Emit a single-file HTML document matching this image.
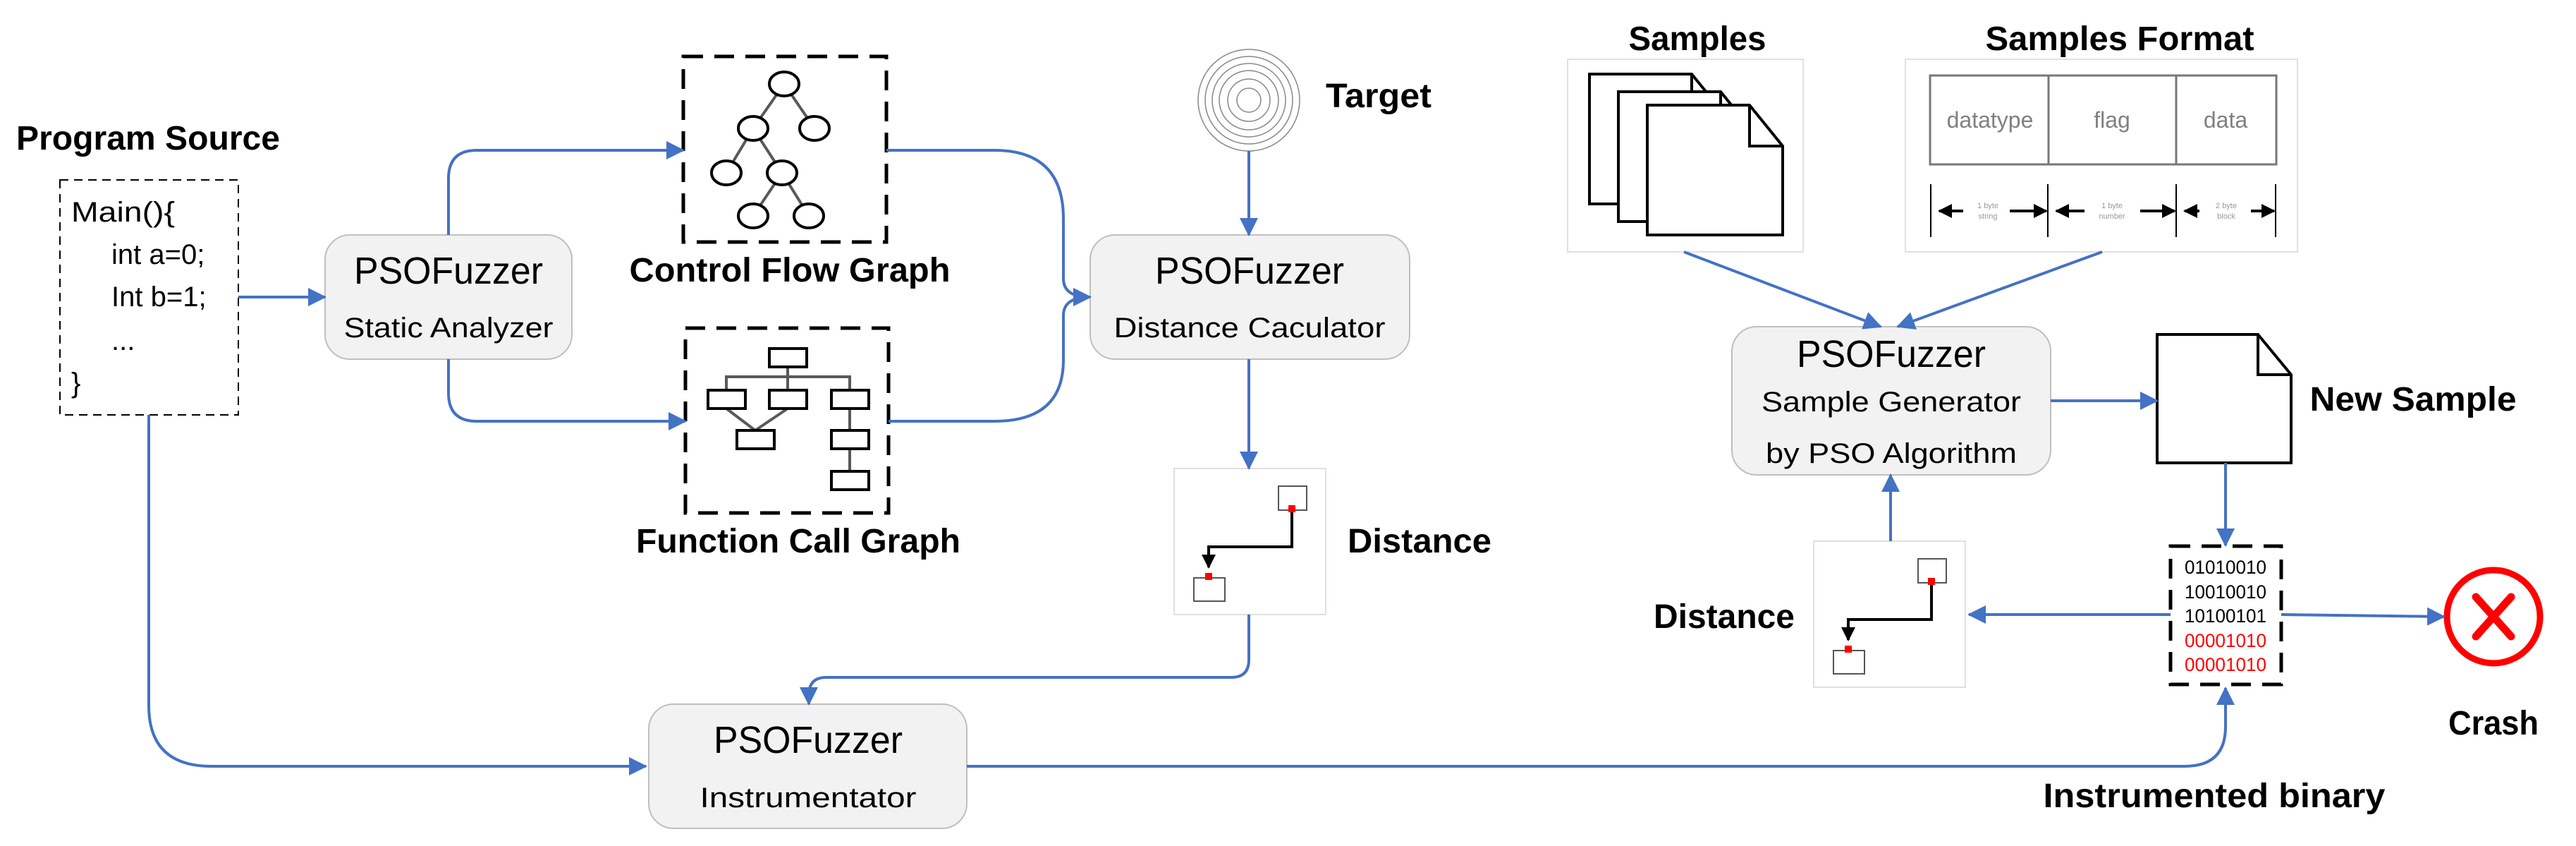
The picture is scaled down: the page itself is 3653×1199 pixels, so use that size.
<!DOCTYPE html>
<html><head><meta charset="utf-8"><style>
html,body{margin:0;padding:0;background:#fff;}
svg{display:block;}
text{font-family:"Liberation Sans",sans-serif;}
.b{font-weight:bold;font-size:48px;fill:#000;text-anchor:middle;}
.t1{font-size:54px;fill:#000;text-anchor:middle;}
.t2{font-size:40px;fill:#000;text-anchor:middle;}
.c{stroke:#4472C4;stroke-width:4;fill:none;marker-end:url(#ah);}
.box{fill:#f2f2f2;stroke:#bfbfbf;stroke-width:2;}
</style></head><body>
<svg width="3653" height="1199" viewBox="0 0 3653 1199" xmlns="http://www.w3.org/2000/svg">
<defs>
<marker id="ah" markerUnits="userSpaceOnUse" markerWidth="26" markerHeight="26" refX="24" refY="13" orient="auto">
<path d="M0,0 L26,13 L0,26 z" fill="#4472C4"/></marker>
<marker id="bk" markerUnits="userSpaceOnUse" markerWidth="20" markerHeight="20" refX="18" refY="10" orient="auto">
<path d="M0,0 L20,10 L0,20 z" fill="#000"/></marker>
<g id="dist">
<rect x="0" y="0" width="215" height="207" fill="#fff" stroke="#e0e0e0" stroke-width="2"/>
<rect x="148" y="25" width="40" height="34" fill="#fff" stroke="#555" stroke-width="2"/>
<path d="M167 58 V111 H49 V140" stroke="#000" stroke-width="4" fill="none" marker-end="url(#bk)"/>
<rect x="28" y="155" width="44" height="33" fill="#fff" stroke="#555" stroke-width="2"/>
<rect x="162" y="52" width="10" height="10" fill="#f00"/>
<rect x="44" y="148" width="10" height="10" fill="#f00"/>
</g>
<g id="page">
<path d="M0 0 H145 L192 58 V184 H0 Z" fill="#fff" stroke="#000" stroke-width="4"/>
<path d="M145 0 V58 H192" fill="none" stroke="#000" stroke-width="4"/>
</g>
</defs>

<text class="b" x="210" y="212" textLength="374" lengthAdjust="spacingAndGlyphs">Program Source</text>
<text class="b" x="1120" y="399" textLength="455" lengthAdjust="spacingAndGlyphs">Control Flow Graph</text>
<text class="b" x="1132" y="783" textLength="460" lengthAdjust="spacingAndGlyphs">Function Call Graph</text>
<text class="b" x="1955" y="152" textLength="150" lengthAdjust="spacingAndGlyphs">Target</text>
<text class="b" x="2013" y="783" textLength="204" lengthAdjust="spacingAndGlyphs">Distance</text>
<text class="b" x="2407" y="71" textLength="195" lengthAdjust="spacingAndGlyphs">Samples</text>
<text class="b" x="3006" y="71" textLength="381" lengthAdjust="spacingAndGlyphs">Samples Format</text>
<text class="b" x="3422" y="582" textLength="293" lengthAdjust="spacingAndGlyphs">New Sample</text>
<text class="b" x="2445" y="890" textLength="200" lengthAdjust="spacingAndGlyphs">Distance</text>
<text class="b" x="3536" y="1041" textLength="128" lengthAdjust="spacingAndGlyphs">Crash</text>
<text class="b" x="3140" y="1144" textLength="485" lengthAdjust="spacingAndGlyphs">Instrumented binary</text>

<rect x="85" y="255" width="253" height="333" fill="#fff" stroke="#000" stroke-width="2" stroke-dasharray="12,8"/>
<g font-size="40" fill="#000">
<text x="101" y="314" textLength="147" lengthAdjust="spacingAndGlyphs">Main(){</text>
<text x="158" y="374">int a=0;</text>
<text x="158" y="434">Int b=1;</text>
<text x="158" y="496">...</text>
<text x="101" y="556">}</text>
</g>

<rect class="box" x="461" y="333" width="350" height="176" rx="35"/>
<text class="t1" x="636" y="402" textLength="268" lengthAdjust="spacingAndGlyphs">PSOFuzzer</text>
<text class="t2" x="636" y="478" textLength="297" lengthAdjust="spacingAndGlyphs">Static Analyzer</text>

<rect class="box" x="1546" y="333" width="453" height="176" rx="35"/>
<text class="t1" x="1772" y="402" textLength="268" lengthAdjust="spacingAndGlyphs">PSOFuzzer</text>
<text class="t2" x="1772" y="478" textLength="385" lengthAdjust="spacingAndGlyphs">Distance Caculator</text>

<rect class="box" x="920" y="998" width="451" height="176" rx="35"/>
<text class="t1" x="1146" y="1067" textLength="268" lengthAdjust="spacingAndGlyphs">PSOFuzzer</text>
<text class="t2" x="1146" y="1144" textLength="307" lengthAdjust="spacingAndGlyphs">Instrumentator</text>

<rect class="box" x="2456" y="463" width="452" height="210" rx="35"/>
<text class="t1" x="2682" y="520" textLength="268" lengthAdjust="spacingAndGlyphs">PSOFuzzer</text>
<text class="t2" x="2682" y="583" textLength="368" lengthAdjust="spacingAndGlyphs">Sample Generator</text>
<text class="t2" x="2682" y="656" textLength="356" lengthAdjust="spacingAndGlyphs">by PSO Algorithm</text>

<rect x="969" y="80" width="288" height="263" fill="#fff" stroke="#000" stroke-width="5" stroke-dasharray="28,16"/>
<g stroke="#595959" stroke-width="4">
<line x1="1112" y1="119" x2="1068" y2="182"/><line x1="1112" y1="119" x2="1155" y2="182"/>
<line x1="1068" y1="182" x2="1030" y2="245"/><line x1="1068" y1="182" x2="1109" y2="245"/>
<line x1="1109" y1="245" x2="1068" y2="306"/><line x1="1109" y1="245" x2="1147" y2="306"/>
</g>
<g fill="#fff" stroke="#000" stroke-width="4">
<ellipse cx="1112" cy="119" rx="21" ry="17"/><ellipse cx="1068" cy="182" rx="21" ry="17"/><ellipse cx="1155" cy="182" rx="21" ry="17"/>
<ellipse cx="1030" cy="245" rx="21" ry="17"/><ellipse cx="1109" cy="245" rx="21" ry="17"/>
<ellipse cx="1068" cy="306" rx="21" ry="17"/><ellipse cx="1147" cy="306" rx="21" ry="17"/>
</g>

<rect x="972" y="465" width="288" height="262" fill="#fff" stroke="#000" stroke-width="5" stroke-dasharray="28,16"/>
<g stroke="#595959" stroke-width="4" fill="none">
<path d="M1117 520 V553 M1030 553 V534 H1205 V553 M1030 579 L1071 610 M1117 579 L1071 610 M1205 579 V610 M1205 636 V668"/>
</g>
<g fill="#fff" stroke="#000" stroke-width="4">
<rect x="1091" y="494" width="53" height="26"/>
<rect x="1004" y="553" width="53" height="26"/><rect x="1091" y="553" width="53" height="26"/><rect x="1179" y="553" width="53" height="26"/>
<rect x="1045" y="610" width="53" height="26"/><rect x="1179" y="610" width="53" height="26"/>
<rect x="1179" y="668" width="53" height="26"/>
</g>

<g fill="none" stroke="#888" stroke-width="1.5">
<circle cx="1771" cy="142" r="72"/><circle cx="1771" cy="142" r="62"/><circle cx="1771" cy="142" r="52"/>
<circle cx="1771" cy="142" r="42"/><circle cx="1771" cy="142" r="30"/><circle cx="1771" cy="142" r="17"/>
</g>

<use href="#dist" x="1665" y="664"/>
<use href="#dist" x="2572" y="767"/>

<rect x="2223" y="84" width="334" height="273" fill="#fff" stroke="#e0e0e0" stroke-width="2"/>
<use href="#page" x="2254" y="105"/>
<use href="#page" x="2295" y="130"/>
<use href="#page" x="2336" y="149"/>

<rect x="2702" y="84" width="556" height="273" fill="#fff" stroke="#e0e0e0" stroke-width="2"/>
<rect x="2737" y="107" width="491" height="126" fill="#fff" stroke="#777" stroke-width="3"/>
<line x1="2905" y1="107" x2="2905" y2="233" stroke="#777" stroke-width="3"/>
<line x1="3086" y1="107" x2="3086" y2="233" stroke="#777" stroke-width="3"/>
<g font-size="32" fill="#808080" text-anchor="middle">
<text x="2822" y="181">datatype</text><text x="2995" y="181">flag</text><text x="3156" y="181">data</text>
</g>
<g stroke="#000" stroke-width="2"><line x1="2738" y1="261" x2="2738" y2="336"/><line x1="2904" y1="261" x2="2904" y2="336"/><line x1="3086" y1="261" x2="3086" y2="336"/><line x1="3227" y1="261" x2="3227" y2="336"/></g>
<g stroke="#000" stroke-width="4">
<line x1="2784" y1="299" x2="2750" y2="299" marker-end="url(#bk)"/>
<line x1="2850" y1="299" x2="2902" y2="299" marker-end="url(#bk)"/>
<line x1="2956" y1="299" x2="2916" y2="299" marker-end="url(#bk)"/>
<line x1="3035" y1="299" x2="3084" y2="299" marker-end="url(#bk)"/>
<line x1="3119" y1="299" x2="3098" y2="299" marker-end="url(#bk)"/>
<line x1="3192" y1="299" x2="3225" y2="299" marker-end="url(#bk)"/>
</g>
<g font-size="11" fill="#999" text-anchor="middle">
<text x="2819" y="295">1 byte</text><text x="2819" y="310">string</text>
<text x="2995" y="295">1 byte</text><text x="2995" y="310">number</text>
<text x="3157" y="295">2 byte</text><text x="3157" y="310">block</text>
</g>

<g transform="translate(3059,474)"><path d="M0 0 H143 L190 57 V182 H0 Z" fill="#fff" stroke="#000" stroke-width="4"/><path d="M143 0 V57 H190" fill="none" stroke="#000" stroke-width="4"/></g>

<rect x="3078" y="774" width="157" height="196" fill="#fff" stroke="#000" stroke-width="5" stroke-dasharray="28,16"/>
<g font-size="27" text-anchor="middle">
<text x="3156" y="813" textLength="116" lengthAdjust="spacingAndGlyphs">01010010</text>
<text x="3156" y="848" textLength="116" lengthAdjust="spacingAndGlyphs">10010010</text>
<text x="3156" y="882" textLength="116" lengthAdjust="spacingAndGlyphs">10100101</text>
<text x="3156" y="917" fill="#f00" textLength="116" lengthAdjust="spacingAndGlyphs">00001010</text>
<text x="3156" y="951" fill="#f00" textLength="116" lengthAdjust="spacingAndGlyphs">00001010</text>
</g>

<circle cx="3536" cy="874" r="66" fill="#fff" stroke="#f00" stroke-width="9"/>
<path d="M3511 846 L3561 902 M3561 846 L3511 902" stroke="#f00" stroke-width="11" stroke-linecap="round"/>

<path class="c" d="M338 421 H461"/>
<path class="c" d="M636 333 V253 Q636 213 676 213 H969"/>
<path class="c" d="M636 509 V557 Q636 597 676 597 H972"/>
<path class="c" d="M1257 213 H1410 Q1508 213 1508 310 V395 Q1508 421 1546 421"/>
<path class="c" d="M1260 597 H1410 Q1508 597 1508 510 V447 Q1508 421 1546 421"/>
<path class="c" d="M1771 214 V333"/>
<path class="c" d="M1771 509 V664"/>
<path class="c" d="M1771 871 V935 Q1771 960 1746 960 H1172 Q1147 960 1147 985 V998"/>
<path class="c" d="M211 588 V1000 Q211 1086 300 1086 H916"/>
<path class="c" d="M1371 1086 H3098 Q3156 1086 3156 1030 V975"/>
<path class="c" d="M2388 357 L2667 463"/>
<path class="c" d="M2981 357 L2691 463"/>
<path class="c" d="M2908 568 H3059"/>
<path class="c" d="M3156 656 V773"/>
<path class="c" d="M3078 871 H2792"/>
<path class="c" d="M3235 871 L3466 874"/>
<path class="c" d="M2681 767 V673"/>
</svg>
</body></html>
